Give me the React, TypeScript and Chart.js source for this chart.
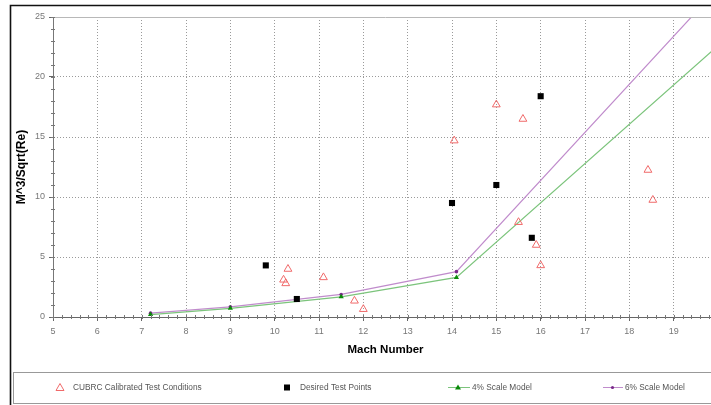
import React, { useEffect, useRef } from 'react';
import { Chart, registerables } from 'chart.js';

Chart.register(...registerables);

// ---- data ----
const cubrcMach = [10.3, 10.2, 10.25, 11.1, 11.8, 12.0, 14.05, 15.0, 15.6, 15.5, 15.9, 16.0, 18.42, 18.53];
const cubrcValue = [4.0, 3.1, 2.8, 3.3, 1.35, 0.65, 14.7, 17.7, 16.5, 7.9, 6.0, 4.3, 12.25, 9.75];
const desiredMach = [9.8, 10.5, 14.0, 15.0, 15.8, 16.0];
const desiredValue = [4.3, 1.5, 9.5, 11.0, 6.6, 18.4];
const modelMach = [7.2, 9.0, 11.5, 14.1, 20.0];
const model4Value = [0.2, 0.72, 1.68, 3.3, 22.6];
const model6Value = [0.32, 0.85, 1.88, 3.78, 27.4];
const seriesLabels = ['CUBRC Calibrated Test Conditions', 'Desired Test Points', '4% Scale Model', '6% Scale Model'];
const xTitle = 'Mach Number';
const yTitle = 'M^3/Sqrt(Re)';

const FONT = '"Liberation Sans", Arial, sans-serif';
const RED = '#f06a6a';
const GREEN_LINE = '#7cc47c';
const GREEN_PT = '#0a8a0a';
const PURPLE_LINE = '#c08ccc';
const PURPLE_PT = '#7a2a8a';

const pts = (xs: number[], ys: number[]) => xs.map((x, i) => ({ x, y: ys[i] }));

const decor = {
  id: 'decor',
  afterDraw(chart: any) {
    const { ctx, chartArea: a, scales } = chart;
    const x = scales.x;
    const y = scales.y;
    ctx.save();
    // top plot border
    ctx.strokeStyle = '#b8b8b8';
    ctx.lineWidth = 1;
    ctx.beginPath();
    ctx.moveTo(a.left, Math.round(a.top) + 0.5);
    ctx.lineTo(a.right, Math.round(a.top) + 0.5);
    ctx.stroke();
    // minor ticks
    ctx.strokeStyle = '#777';
    ctx.beginPath();
    for (let i = 0; i <= 75; i++) {
      const v = 5 + i * 0.2;
      const px = Math.round(x.getPixelForValue(v)) + 0.5;
      ctx.moveTo(px, a.bottom - 2);
      ctx.lineTo(px, a.bottom + 2);
    }
    for (let i = 0; i <= 25; i++) {
      const py = Math.round(y.getPixelForValue(i)) + 0.5;
      ctx.moveTo(a.left - 2, py);
      ctx.lineTo(a.left + 2, py);
    }
    ctx.stroke();
    // outer frame
    ctx.strokeStyle = '#111';
    ctx.lineWidth = 1.6;
    ctx.beginPath();
    ctx.moveTo(10.5, 405);
    ctx.lineTo(10.5, 5.5);
    ctx.lineTo(chart.width, 5.5);
    ctx.stroke();
    // legend box
    ctx.strokeStyle = '#999';
    ctx.lineWidth = 1;
    ctx.strokeRect(13.5, 372.5, chart.width, 31);
    // legend items
    const ly = 387.5;
    ctx.font = `8.3px ${FONT}`;
    ctx.fillStyle = '#555';
    ctx.textBaseline = 'middle';
    ctx.textAlign = 'left';
    // triangle
    ctx.strokeStyle = RED;
    ctx.lineWidth = 1;
    ctx.beginPath();
    ctx.moveTo(60, ly - 4);
    ctx.lineTo(64, ly + 3);
    ctx.lineTo(56, ly + 3);
    ctx.closePath();
    ctx.stroke();
    ctx.fillText(seriesLabels[0], 73, ly);
    // square
    ctx.fillStyle = '#000';
    ctx.fillRect(284, ly - 3, 6, 6);
    ctx.fillStyle = '#555';
    ctx.fillText(seriesLabels[1], 300, ly);
    // green line
    ctx.strokeStyle = GREEN_LINE;
    ctx.beginPath();
    ctx.moveTo(448, ly);
    ctx.lineTo(470, ly);
    ctx.stroke();
    ctx.fillStyle = GREEN_PT;
    ctx.beginPath();
    ctx.moveTo(458, ly - 3);
    ctx.lineTo(461, ly + 2);
    ctx.lineTo(455, ly + 2);
    ctx.closePath();
    ctx.fill();
    ctx.fillStyle = '#555';
    ctx.fillText(seriesLabels[2], 472, ly);
    // purple line
    ctx.strokeStyle = PURPLE_LINE;
    ctx.beginPath();
    ctx.moveTo(603, ly);
    ctx.lineTo(623, ly);
    ctx.stroke();
    ctx.fillStyle = PURPLE_PT;
    ctx.beginPath();
    ctx.arc(612.5, ly, 1.6, 0, Math.PI * 2);
    ctx.fill();
    ctx.fillStyle = '#555';
    ctx.fillText(seriesLabels[3], 625, ly);
    ctx.restore();
  },
};

export default function App() {
  const ref = useRef<HTMLCanvasElement | null>(null);
  useEffect(() => {
    if (!ref.current) return;
    const chart = new Chart(ref.current, {
      type: 'scatter',
      data: {
        datasets: [
          {
            label: seriesLabels[0],
            data: pts(cubrcMach, cubrcValue),
            pointStyle: 'triangle',
            pointRadius: 4.5,
            pointBackgroundColor: 'rgba(0,0,0,0)',
            pointBorderColor: RED,
            pointBorderWidth: 1,
            showLine: false,
          },
          {
            label: seriesLabels[1],
            data: pts(desiredMach, desiredValue),
            pointStyle: 'rect',
            pointRadius: 4.3,
            pointBackgroundColor: '#000',
            pointBorderColor: '#000',
            pointBorderWidth: 0,
            showLine: false,
          },
          {
            label: seriesLabels[2],
            data: pts(modelMach, model4Value),
            showLine: true,
            borderColor: GREEN_LINE,
            borderWidth: 1.2,
            pointStyle: 'triangle',
            pointRadius: 3,
            pointBackgroundColor: GREEN_PT,
            pointBorderColor: GREEN_PT,
            pointBorderWidth: 0,
          },
          {
            label: seriesLabels[3],
            data: pts(modelMach, model6Value),
            showLine: true,
            borderColor: PURPLE_LINE,
            borderWidth: 1.2,
            pointStyle: 'circle',
            pointRadius: 1.8,
            pointBackgroundColor: PURPLE_PT,
            pointBorderColor: PURPLE_PT,
            pointBorderWidth: 0,
          },
        ],
      },
      options: {
        responsive: false,
        animation: false,
        devicePixelRatio: 1,
        layout: { padding: { left: 10, top: 17, right: 42, bottom: 48 } },
        plugins: { legend: { display: false }, tooltip: { enabled: false } },
        scales: {
          x: {
            type: 'linear',
            min: 5,
            max: 20,
            afterFit: (s: any) => { s.height = 40; },
            ticks: { stepSize: 1, color: '#777', font: { family: FONT, size: 9 }, padding: 5, maxRotation: 0 },
            grid: { color: '#9a9a9a', tickColor: '#666', tickLength: 4, lineWidth: 1 },
            border: { color: '#666', width: 1, dash: [1, 2] },
            title: { display: true, text: xTitle, color: '#000', font: { family: FONT, size: 11.5, weight: 'bold' }, padding: 0 },
          },
          y: {
            type: 'linear',
            min: 0,
            max: 25,
            afterFit: (s: any) => { s.width = 43; },
            ticks: { stepSize: 5, color: '#777', font: { family: FONT, size: 9 }, padding: 4 },
            grid: {
              color: (c: any) => (c.tick && c.tick.value === 25 ? 'rgba(0,0,0,0)' : '#9a9a9a'),
              tickColor: '#666',
              tickLength: 4,
              lineWidth: 1,
            },
            border: { color: '#777', width: 1, dash: [1, 2] },
            title: { display: true, text: yTitle, color: '#000', font: { family: FONT, size: 12, weight: 'bold' }, padding: { top: 4, bottom: 0 } },
          },
        },
      },
      plugins: [decor],
    } as any);
    return () => chart.destroy();
  }, []);
  return (
    <div style={{ position: 'absolute', left: 0, top: 0, width: 711, height: 405, overflow: 'hidden', background: '#fff' }}>
      <canvas ref={ref} width={760} height={405} style={{ display: 'block', width: 760, height: 405 }} />
    </div>
  );
}
